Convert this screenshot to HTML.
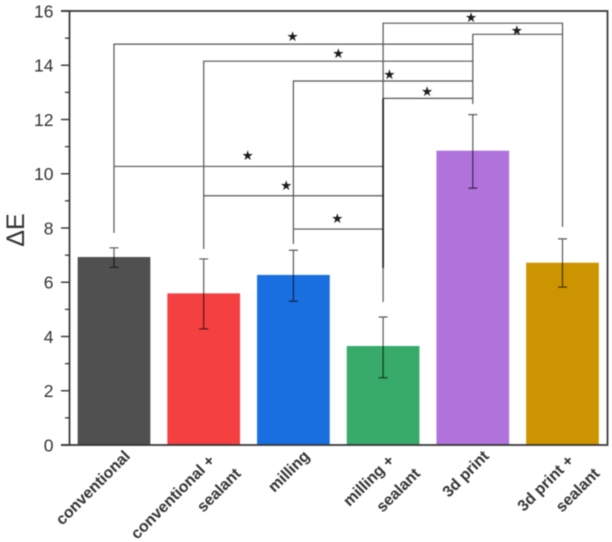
<!DOCTYPE html>
<html lang="en">
<head>
<meta charset="utf-8">
<title>Delta E bar chart</title>
<style>
html,body{margin:0;padding:0;background:#fff;width:612px;height:542px;overflow:hidden}
svg{display:block;filter:blur(0.5px)}
text{font-family:"Liberation Sans",sans-serif}
</style>
</head>
<body>
<svg id="chart" xmlns="http://www.w3.org/2000/svg" width="612" height="542" viewBox="0 0 612 542"></svg>
<script>
const categories = [["conventional"],["conventional +","sealant"],["milling"],["milling +","sealant"],["3d print"],["3d print +","sealant"]];
const barValues = [6.93,5.59,6.27,3.65,10.85,6.72];
const errorTop = [7.27,6.86,7.18,4.72,12.18,7.6];
const errorBottom = [6.55,4.28,5.3,2.48,9.47,5.82];
const barColors = ["#505050","#f44040","#1a6fe0","#38ab6b","#b073dc","#cc9500"];
const yTicks = [0,2,4,6,8,10,12,14,16];
const yMinorTicks = [1,3,5,7,9,11,13,15];
const bracketFrom = [3,4,0,1,2,3,0,1,2];
const bracketTo = [5,5,4,4,4,4,3,3,3];
const bracketLevel = [15.55,15.14,14.78,14.15,13.42,12.78,10.27,9.19,7.96];
const bracketLeftEnd = [5.27,12.57,7.82,7.23,7.41,6.53,10.27,9.19,7.96];
const bracketRightEnd = [8.04,15.14,14.78,14.15,13.42,12.78,10.27,9.19,7.96];
const starCat = [3.98,4.49,1.99,2.5,3.07,3.49,1.49,1.92,2.49];
const starLevel = [15.78,15.3,15.08,14.45,13.68,13.05,10.69,9.59,8.37];

const svg = document.getElementById('chart');
const NS = 'http://www.w3.org/2000/svg';
const x = c => 114 + 89.7 * c;
const y = v => 445 - 27.125 * v;
const barWidth = 72.7;

function mk(tag, attrs, txt) {
  const el = document.createElementNS(NS, tag);
  for (const k in attrs) el.setAttribute(k, attrs[k]);
  if (txt !== undefined) el.textContent = txt;
  svg.appendChild(el);
  return el;
}

barValues.forEach((v, i) => {
  const el = mk('rect', {x: x(i) - barWidth / 2, y: y(v), width: barWidth, height: y(0) - y(v), fill: barColors[i]});
  
  
});

bracketLevel.forEach((lv, i) => {
  const d = `M${x(bracketFrom[i])} ${y(bracketLeftEnd[i])}V${y(lv)}H${x(bracketTo[i])}V${y(bracketRightEnd[i])}`;
  const el = mk('path', {d: d, fill: 'none', stroke: '#555', 'stroke-width': 1.2});
  
  
  const s = mk('text', {x: x(starCat[i]), y: y(starLevel[i]) + 5, 'text-anchor': 'middle', 'font-size': 13.5, fill: '#1c1c1c', style: 'font-family:"DejaVu Sans",sans-serif'}, '★');
  
  
});

const overlap = mk('line', {x1: x(3), x2: x(3), y1: y(bracketLevel[5]), y2: y(bracketLeftEnd[5]), stroke: '#222', 'stroke-width': 1.7});



barValues.forEach((v, i) => {
  const e = mk('path', {d: `M${x(i)} ${y(errorBottom[i])}V${y(errorTop[i])}M${x(i) - 4.5} ${y(errorTop[i])}h9M${x(i) - 4.5} ${y(errorBottom[i])}h9`, fill: 'none', stroke: '#000', 'stroke-opacity': .65, 'stroke-width': 1.2});
  
  
});

const frame = mk('path', {d: 'M61 11H607.5V445H61M69.5 11V445', fill: 'none', stroke: '#333', 'stroke-width': 1.7});



yTicks.forEach(t => {
  const tk = mk('line', {x1: 61, x2: 69.5, y1: y(t), y2: y(t), stroke: '#333', 'stroke-width': 1.4});
  
  
  const lb = mk('text', {x: 53.5, y: y(t) + 6.4, 'text-anchor': 'end', 'font-size': 17.5, fill: '#333'}, String(t));
  
  
});
yMinorTicks.forEach(t => {
  const tk = mk('line', {x1: 65, x2: 69.5, y1: y(t), y2: y(t), stroke: '#333', 'stroke-width': 1.3});
  
  
});

const title = mk('text', {transform: 'translate(24 230) rotate(-90)', 'text-anchor': 'middle', 'font-size': 25, fill: '#333'}, 'ΔE');



categories.forEach((lines, i) => {
  lines.forEach((line, j) => {
    const multi = lines.length > 1;
    const ax = x(i) + (multi ? 12 + j * 26 : 17);
    const ay = multi ? 461.5 + j * 13 : 457;
    const t = mk('text', {transform: `translate(${ax} ${ay}) rotate(-45)`, 'text-anchor': 'end', 'font-size': 15.8, 'font-weight': 'bold', fill: '#333'}, line);
    
    
  });
});
</script>
</body>
</html>
